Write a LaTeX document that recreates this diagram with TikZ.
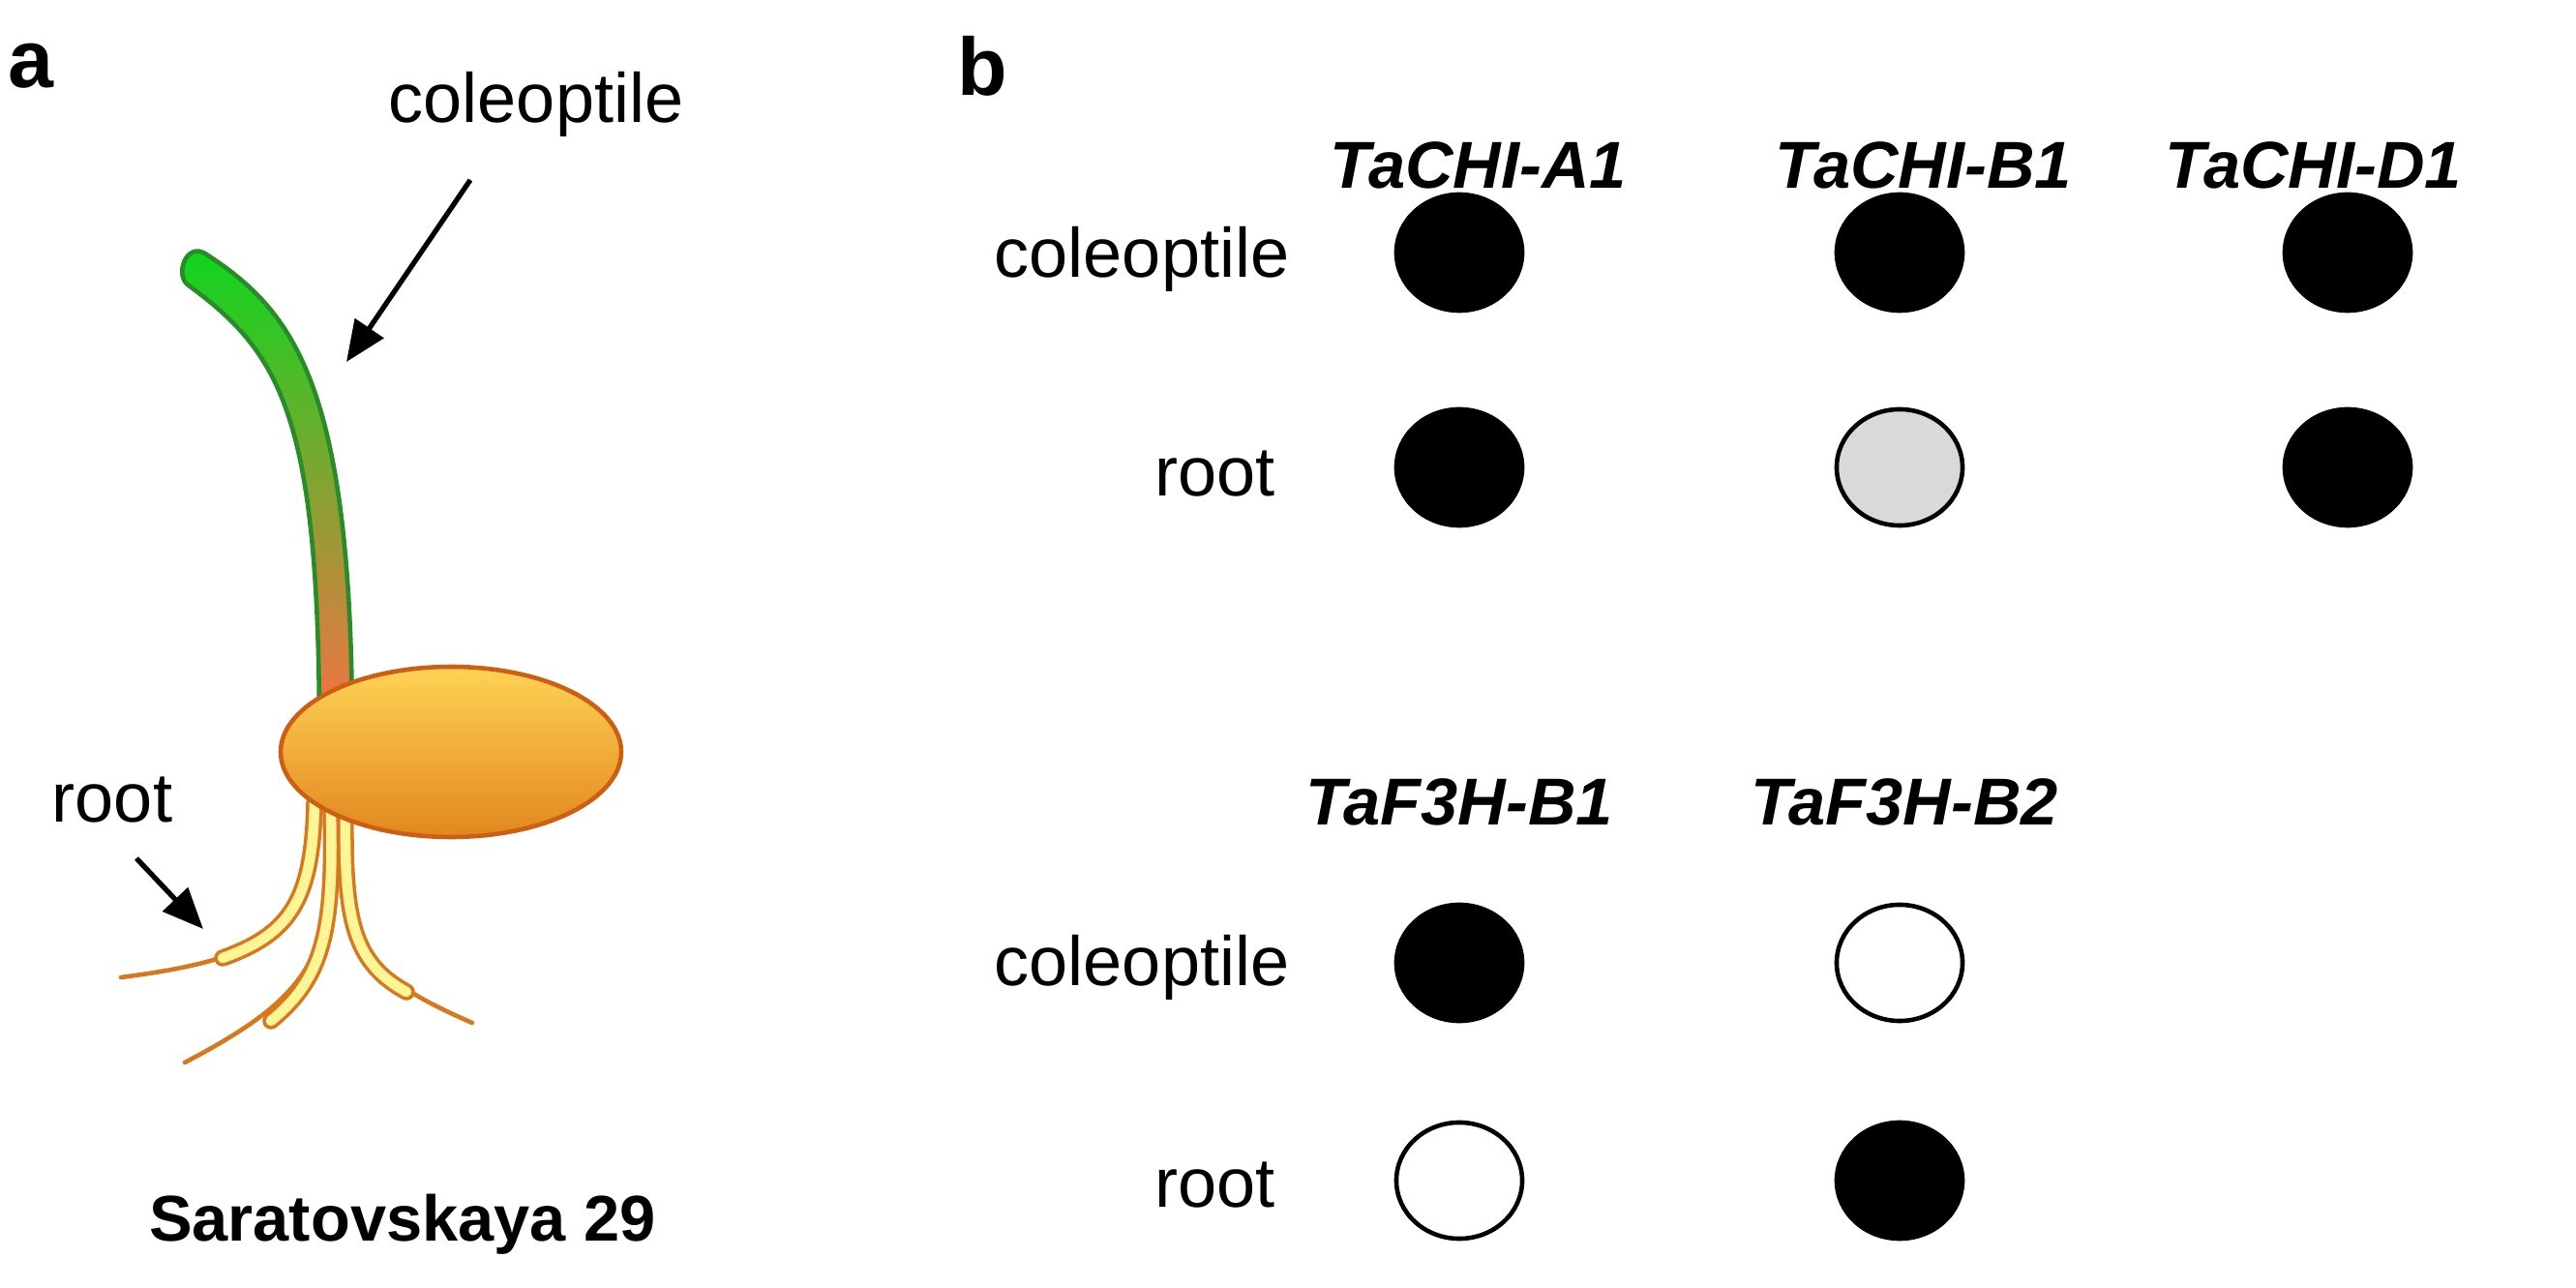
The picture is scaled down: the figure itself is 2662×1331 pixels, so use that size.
\documentclass[tikz,border=0pt]{standalone}
\usepackage{fontspec}
\setmainfont{Liberation Sans}
\usetikzlibrary{arrows.meta,shapes.geometric}
\begin{document}
\begin{tikzpicture}[x=0.01cm,y=-0.01cm,
  lab/.style={font=\fontsize{20.5}{24}\selectfont, inner sep=0pt},
  hdr/.style={font=\fontsize{19.5}{23}\selectfont\bfseries\itshape, inner sep=0pt},
  panel/.style={font=\fontsize{24}{28}\selectfont\bfseries, inner sep=0pt},
  dot/.style={ellipse, minimum width=1.3cm, minimum height=1.2cm, draw=black, line width=1.3pt, inner sep=0pt},
  arr/.style={line width=1.5pt, -{Triangle[length=12pt,width=10pt]}},
  rootout/.style={draw={rgb,255:red,215;green,120;blue,30}, line cap=round},
  rootin/.style={draw={rgb,255:red,255;green,245;blue,150}, line cap=round}]
\path[use as bounding box] (0,0) rectangle (2662,1331);
% panel a
\node[panel] (pa) at (32,68) {a};
\node[panel] (pb) at (1015,68) {b};
% roots
\draw[rootout, line width=1.3pt] (325,840) .. controls (320,960) and (280,990) .. (125,1010);
\draw[rootout, line width=1.3pt] (342,850) .. controls (345,990) and (320,1030) .. (191,1098);
\draw[rootout, line width=1.3pt] (357,855) .. controls (355,980) and (380,1010) .. (488,1057);
\draw[rootout, line width=5pt] (325,830) .. controls (323,930) and (300,965) .. (230,990);
\draw[rootin, line width=3pt] (325,830) .. controls (323,930) and (300,965) .. (230,990);
\draw[rootout, line width=5pt] (342,840) .. controls (345,960) and (335,1010) .. (280,1055);
\draw[rootin, line width=3pt] (342,840) .. controls (345,960) and (335,1010) .. (280,1055);
\draw[rootout, line width=5pt] (357,845) .. controls (356,950) and (365,995) .. (420,1025);
\draw[rootin, line width=3pt] (357,845) .. controls (356,950) and (365,995) .. (420,1025);
% coleoptile
\shade[top color={rgb,255:red,10;green,215;blue,30}, middle color={rgb,255:red,190;green,180;blue,50},
       bottom color={rgb,255:red,255;green,110;blue,70},
       draw={rgb,255:red,40;green,140;blue,40}, line width=1.3pt]
  (212,262) .. controls (305,322) and (364,400) .. (364,760)
  -- (330,760) .. controls (330,430) and (290,365) .. (195,295)
  .. controls (180,285) and (192,250) .. (212,262) -- cycle;
% seed
\shade[shading angle=225, top color={rgb,255:red,255;green,210;blue,85}, bottom color={rgb,255:red,225;green,135;blue,30},
       draw={rgb,255:red,205;green,95;blue,20}, line width=1.3pt]
  (466,777) ellipse [x radius=176, y radius=88];
% labels a
\node[lab] (col) at (554,108) {coleoptile};
\coordinate (colend) at (358,374);
\draw[arr] (486,186) -- (colend);
\node[lab] (rt) at (116,827) {root};
\coordinate (rtend) at (210,960);
\draw[arr] (141,887) -- (rtend);
\node[font=\fontsize{19}{23}\selectfont\bfseries, inner sep=0pt] (sar) at (416,1265) {Saratovskaya 29};
% panel b
\node[hdr] (h1) at (1528,171) {TaCHI-A1};
\node[hdr] (h2) at (1988,171) {TaCHI-B1};
\node[hdr] (h3) at (2391,171) {TaCHI-D1};
\node[lab, anchor=east] (c1) at (1333,268) {coleoptile};
\node[lab, anchor=east] (r1) at (1318,490) {root};
\node[dot, fill=black] (d11) at (1508,261) {};
\node[dot, fill=black] (d12) at (1963,261) {};
\node[dot, fill=black] (d13) at (2426,261) {};
\node[dot, fill=black] (d21) at (1508,483) {};
\node[dot, fill={rgb,255:red,217;green,217;blue,217}] (d22) at (1963,483) {};
\node[dot, fill=black] (d23) at (2426,483) {};
\node[hdr] (h4) at (1508,829) {TaF3H-B1};
\node[hdr] (h5) at (1968,829) {TaF3H-B2};
\node[lab, anchor=east] (c2) at (1333,1000) {coleoptile};
\node[lab, anchor=east] (r2) at (1318,1225) {root};
\node[dot, fill=black] (e11) at (1508,995) {};
\node[dot, fill=white] (e12) at (1963,995) {};
\node[dot, fill=white] (e21) at (1508,1220) {};
\node[dot, fill=black] (e22) at (1963,1220) {};
\end{tikzpicture}
\end{document}
